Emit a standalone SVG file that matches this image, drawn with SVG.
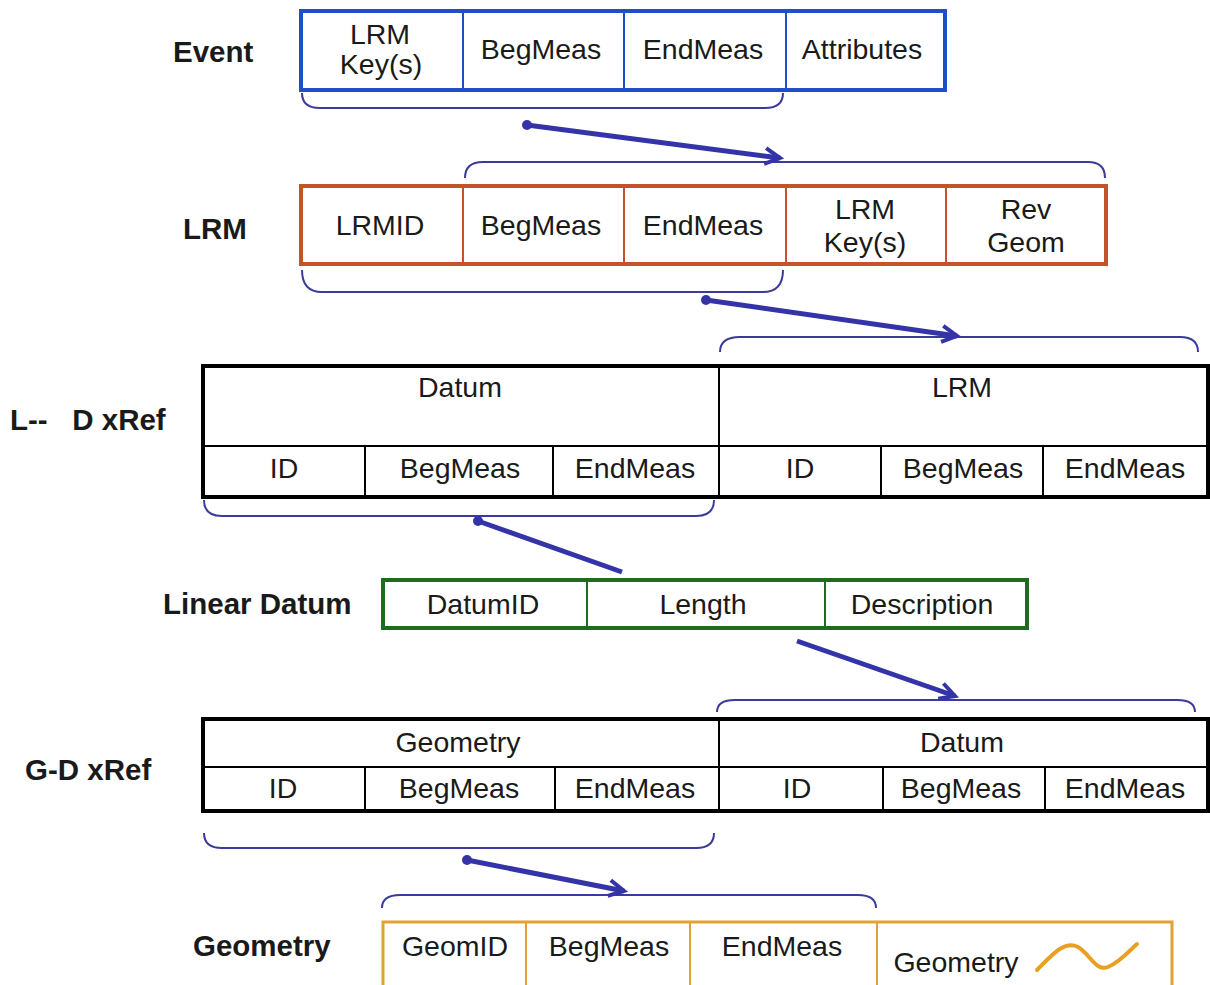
<svg xmlns="http://www.w3.org/2000/svg" width="1210" height="985" viewBox="0 0 1210 985">
<style>
text{font-family:"Liberation Sans",Arial,sans-serif;font-size:28.5px;fill:#1a1a1a;text-anchor:middle}
.lbl{font-weight:bold;text-anchor:start;font-size:29.5px}
.brace{fill:none;stroke:#3b3b9c;stroke-width:2}
.conn{fill:none;stroke:#3434a8;stroke-width:5}
.tb{fill:#fff;stroke:#000;stroke-width:4}
.tl{stroke:#000;stroke-width:2}
</style>
<defs>
<marker id="arr" viewBox="0 0 24 24" refX="20" refY="12" markerWidth="24" markerHeight="24" markerUnits="userSpaceOnUse" orient="auto">
<path d="M5,4 L20,12 L5,20" fill="none" stroke="#3434a8" stroke-width="4"/>
</marker>
<marker id="dot" viewBox="0 0 12 12" refX="6" refY="6" markerWidth="12" markerHeight="12" markerUnits="userSpaceOnUse">
<circle cx="6" cy="6" r="5" fill="#3434a8"/>
</marker>
</defs>
<rect width="1210" height="985" fill="#fff"/>

<g id="event">
<text class="lbl" x="173" y="62">Event</text>
<rect x="301" y="11" width="644" height="79" fill="#fff" stroke="#1c4fc8" stroke-width="4"/>
<g stroke="#1c4fc8" stroke-width="2"><line x1="463" y1="11" x2="463" y2="90"/><line x1="624" y1="11" x2="624" y2="90"/><line x1="786" y1="11" x2="786" y2="90"/></g>
<text x="380" y="44">LRM</text><text x="381" y="74">Key(s)</text>
<text x="541" y="59">BegMeas</text>
<text x="703" y="59">EndMeas</text>
<text x="862" y="59">Attributes</text>
</g>

<g id="lrm">
<text class="lbl" x="183" y="239">LRM</text>
<rect x="301" y="186" width="805" height="78" fill="#fff" stroke="#c4532a" stroke-width="4"/>
<g stroke="#c4532a" stroke-width="2"><line x1="463" y1="186" x2="463" y2="264"/><line x1="624" y1="186" x2="624" y2="264"/><line x1="786" y1="186" x2="786" y2="264"/><line x1="946" y1="186" x2="946" y2="264"/></g>
<text x="380" y="235">LRMID</text>
<text x="541" y="235">BegMeas</text>
<text x="703" y="235">EndMeas</text>
<text x="865" y="219">LRM</text><text x="865" y="252">Key(s)</text>
<text x="1026" y="219">Rev</text><text x="1026" y="252">Geom</text>
</g>

<g id="ldxref">
<text class="lbl" x="10" y="430" xml:space="preserve">L--   D xRef</text>
<rect class="tb" x="203" y="366" width="1005" height="131"/>
<line class="tl" x1="203" y1="446" x2="1208" y2="446"/>
<line class="tl" x1="719" y1="366" x2="719" y2="497"/>
<line class="tl" x1="365" y1="446" x2="365" y2="497"/>
<line class="tl" x1="553" y1="446" x2="553" y2="497"/>
<line class="tl" x1="881" y1="446" x2="881" y2="497"/>
<line class="tl" x1="1043" y1="446" x2="1043" y2="497"/>
<text x="460" y="397">Datum</text>
<text x="962" y="397">LRM</text>
<text x="284" y="478">ID</text>
<text x="460" y="478">BegMeas</text>
<text x="635" y="478">EndMeas</text>
<text x="800" y="478">ID</text>
<text x="963" y="478">BegMeas</text>
<text x="1125" y="478">EndMeas</text>
</g>

<g id="lineardatum">
<text class="lbl" x="163" y="614">Linear Datum</text>
<rect x="383" y="580" width="644" height="48" fill="#fff" stroke="#1e6d1e" stroke-width="4"/>
<g stroke="#1e6d1e" stroke-width="2"><line x1="587" y1="580" x2="587" y2="628"/><line x1="825" y1="580" x2="825" y2="628"/></g>
<text x="483" y="614">DatumID</text>
<text x="703" y="614">Length</text>
<text x="922" y="614">Description</text>
</g>

<g id="gdxref">
<text class="lbl" x="25" y="780">G-D xRef</text>
<rect class="tb" x="203" y="719" width="1005" height="92" stroke-width="5"/>
<line class="tl" x1="203" y1="767" x2="1208" y2="767"/>
<line class="tl" x1="719" y1="719" x2="719" y2="811"/>
<line class="tl" x1="365" y1="767" x2="365" y2="811"/>
<line class="tl" x1="555" y1="767" x2="555" y2="811"/>
<line class="tl" x1="883" y1="767" x2="883" y2="811"/>
<line class="tl" x1="1045" y1="767" x2="1045" y2="811"/>
<text x="458" y="752">Geometry</text>
<text x="962" y="752">Datum</text>
<text x="283" y="798">ID</text>
<text x="459" y="798">BegMeas</text>
<text x="635" y="798">EndMeas</text>
<text x="797" y="798">ID</text>
<text x="961" y="798">BegMeas</text>
<text x="1125" y="798">EndMeas</text>
</g>

<g id="geometry">
<text class="lbl" x="193" y="956">Geometry</text>
<rect x="383" y="922" width="789" height="70" fill="#fff" stroke="#e0a235" stroke-width="3"/>
<g stroke="#e0a235" stroke-width="2"><line x1="526" y1="922" x2="526" y2="992"/><line x1="690" y1="922" x2="690" y2="992"/><line x1="877" y1="922" x2="877" y2="992"/></g>
<text x="455" y="956">GeomID</text>
<text x="609" y="956">BegMeas</text>
<text x="782" y="956">EndMeas</text>
<text x="956" y="972">Geometry</text>
<path d="M1037,970 C1052,955 1064,940 1078,947 C1090,954 1096,972 1108,967 C1120,962 1130,950 1137,944" fill="none" stroke="#e8a020" stroke-width="4" stroke-linecap="round"/>
</g>

<g id="connectors">
<path class="brace" d="M302,93 Q302,108 320,108 L765,108 Q783,108 783,93"/>
<path class="brace" d="M465,178 Q465,162 483,162 L1088,162 Q1105,162 1105,178"/>
<path class="brace" d="M302,270 Q302,292 322,292 L763,292 Q783,292 783,270"/>
<path class="brace" d="M720,352 Q720,337 740,337 L1180,337 Q1198,337 1198,352"/>
<path class="brace" d="M204,500 Q204,516 222,516 L696,516 Q714,516 714,500"/>
<path class="brace" d="M717,712 Q717,700 735,700 L1177,700 Q1195,700 1195,712"/>
<path class="brace" d="M204,833 Q204,848 222,848 L696,848 Q714,848 714,833"/>
<path class="brace" d="M382,908 Q382,895 400,895 L858,895 Q876,895 876,908"/>
<line class="conn" x1="527" y1="125" x2="780" y2="158" marker-start="url(#dot)" marker-end="url(#arr)"/>
<line class="conn" x1="706" y1="300" x2="957" y2="336" marker-start="url(#dot)" marker-end="url(#arr)"/>
<line class="conn" x1="622" y1="572" x2="478" y2="521" marker-end="url(#dot)"/>
<line class="conn" x1="797" y1="641" x2="955" y2="696" marker-end="url(#arr)"/>
<line class="conn" x1="467" y1="860" x2="624" y2="891" marker-start="url(#dot)" marker-end="url(#arr)"/>
</g>
</svg>
